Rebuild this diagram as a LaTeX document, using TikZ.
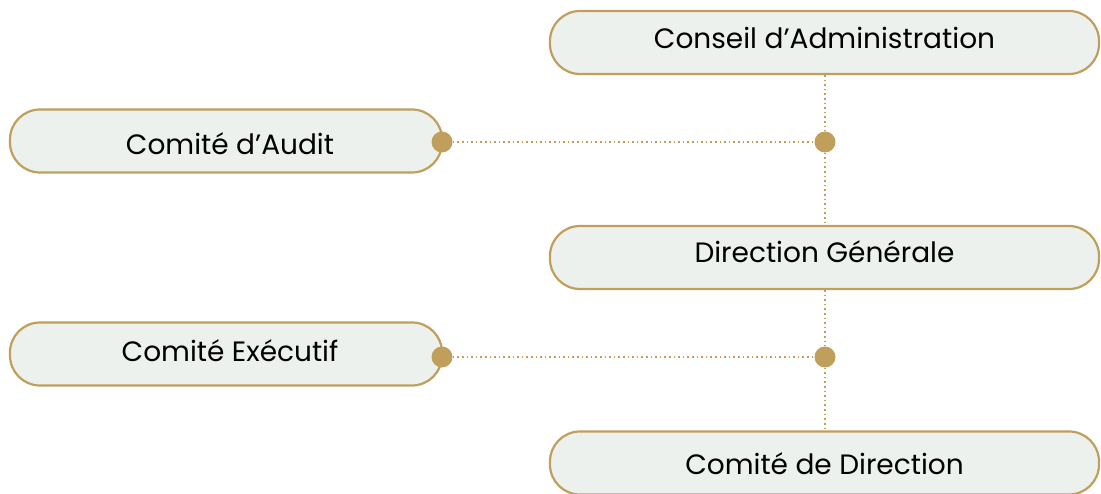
\documentclass[tikz,border=0pt]{standalone}
\usepackage{fontspec}
\setmainfont{Poppins}
\definecolor{gold}{HTML}{C09F5C}
\definecolor{boxfill}{HTML}{EDF1ED}
\newcommand{\shifttext}[3]{\raisebox{#2}[0pt][0pt]{\hspace{#1}#3}}
\begin{document}
\begin{tikzpicture}[x=1pt,y=-1pt,
  orgbox/.style={draw=gold, line width=2.2pt, fill=boxfill, rounded corners=30pt,
    minimum height=63pt, inner sep=0pt, text height=20pt, text depth=0pt,
    font=\fontsize{28}{30}\selectfont, text=black},
  wide/.style={orgbox, minimum width=549pt},
  narrow/.style={orgbox, minimum width=432pt},
  link/.style={draw=gold, line width=2pt, dash pattern=on 1.6pt off 3pt},
  junction/.style={circle, fill=gold, inner sep=0pt, minimum size=21pt}]
\useasboundingbox (0,0) rectangle (1101,494);
\node[wide] (ca) at (824.5,42.5) {\shifttext{0pt}{4pt}{Conseil d’Administration}};
\node[narrow] (audit) at (226,141) {\shifttext{8pt}{-4pt}{Comité d’Audit}};
\node[wide] (dg) at (824.5,257.5) {\shifttext{0pt}{5pt}{Direction Générale}};
\node[narrow] (exec) at (226,354) {\shifttext{8pt}{2pt}{Comité Exécutif}};
\node[wide] (cd) at (824.5,463) {\shifttext{0pt}{-1pt}{Comité de Direction}};
\node[junction] (j1) at (825,142) {};
\node[junction] (j2) at (825,357) {};
\node[junction] (d1) at (442,142) {};
\node[junction] (d2) at (442,357) {};
\draw[link] (ca.south -| j1) -- (j1);
\draw[link] (j1) -- (dg.north -| j1);
\draw[link] (dg.south -| j2) -- (j2);
\draw[link] (j2) -- (cd.north -| j2);
\draw[link] (d1) -- (j1);
\draw[link] (d2) -- (j2);
\end{tikzpicture}
\end{document}
